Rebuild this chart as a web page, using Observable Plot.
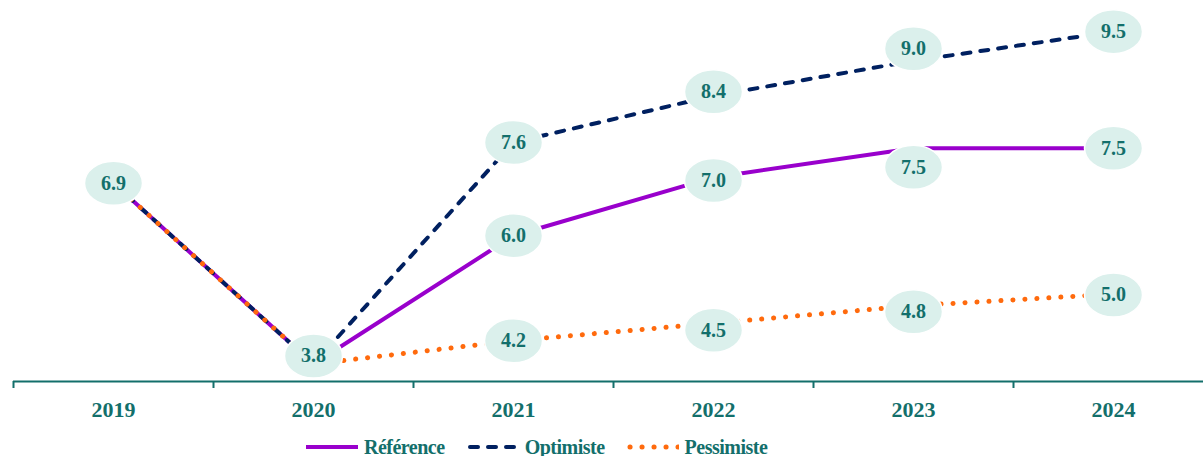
<!DOCTYPE html>
<html>
<head>
<meta charset="utf-8">
<script src="https://cdn.jsdelivr.net/npm/d3@7"></script>
<script src="https://cdn.jsdelivr.net/npm/@observablehq/plot@0.6"></script>
<style>
  html, body { margin: 0; padding: 0; background: #ffffff; }
  #chart { position: relative; width: 1203px; height: 456px; overflow: hidden; }
  #legend {
    position: absolute; left: 306px; top: 432px; height: 30px;
    display: flex; align-items: center; gap: 22px;
    font-family: "Liberation Serif", serif; font-weight: bold; font-size: 20px;
    letter-spacing: -0.5px; color: #136f6b;
  }
  #legend .item { display: flex; align-items: center; gap: 6px; white-space: nowrap; }
  #legend svg { display: block; }
</style>
</head>
<body>
<div id="chart"><div id="legend"></div></div>
<script>
// Years shown on the horizontal axis
const years = [2019, 2020, 2021, 2022, 2023, 2024];

// Scenario values per year
const reference  = [6.9, 3.8, 6.0, 7.0, 7.5, 7.5];
const optimiste  = [6.9, 3.8, 7.6, 8.4, 9.0, 9.5];
const pessimiste = [6.9, 3.8, 4.2, 4.5, 4.8, 5.0];

const seriesNames = ["Référence", "Optimiste", "Pessimiste"];

const teal = "#136f6b";
const bubble = "#dbf0ec";
const styles = {
  "Référence":  {stroke: "#9900cc", strokeWidth: 4, strokeDasharray: null, strokeLinecap: "butt"},
  "Optimiste":  {stroke: "#002060", strokeWidth: 4, strokeDasharray: "8 10", strokeLinecap: "round"},
  "Pessimiste": {stroke: "#ff6a0d", strokeWidth: 5, strokeDasharray: "0.1 11.9", strokeLinecap: "round"}
};

const valuesBy = {"Référence": reference, "Optimiste": optimiste, "Pessimiste": pessimiste};
const rows = seriesNames.flatMap(name =>
  years.map((year, i) => ({series: name, year, value: valuesBy[name][i]}))
);

// Shared history (2019–2020) gets one label; afterwards each scenario has its own
const labels = rows.filter(d => d.year > 2020 || d.series === "Référence");

// Small nudges so bubbles sit clear of neighbouring lines
function labelShift(d) {
  if (d.year === 2020) return -8;
  if (d.year === 2022) return {"Optimiste": -4, "Référence": 3, "Pessimiste": 7}[d.series];
  if (d.year === 2023) return {"Optimiste": -12, "Référence": 19, "Pessimiste": 6}[d.series];
  if (d.year === 2024 && d.series === "Pessimiste") return 1;
  return 0;
}

// Elliptical bubble used behind each value label
const RX = 29, RY = 22, K = 0.5523;
const ellipse = {
  draw(ctx) {
    ctx.moveTo(RX, 0);
    ctx.bezierCurveTo(RX, K * RY, K * RX, RY, 0, RY);
    ctx.bezierCurveTo(-K * RX, RY, -RX, K * RY, -RX, 0);
    ctx.bezierCurveTo(-RX, -K * RY, -K * RX, -RY, 0, -RY);
    ctx.bezierCurveTo(K * RX, -RY, RX, -K * RY, RX, 0);
    ctx.closePath();
  }
};

const font = "Liberation Serif";
const boundaries = years.map(y => y - 0.5);

const marks = [
  Plot.ruleY([3.5], {stroke: teal, strokeWidth: 2}),
  Plot.axisX({ticks: boundaries, tickSize: 7, tickFormat: () => "", label: null, stroke: teal, strokeWidth: 2}),
  Plot.text(years, {
    x: d => d, y: () => 3.5, dy: 28, text: d => String(d),
    fill: teal, fontSize: 22, fontWeight: "bold", fontFamily: font
  }),
  ...seriesNames.map(name => Plot.line(rows.filter(d => d.series === name), {
    x: "year", y: "value", curve: "linear", ...styles[name]
  }))
];

for (const d of labels) {
  const dy = labelShift(d);
  marks.push(Plot.dot([d], {x: "year", y: "value", dy, symbol: ellipse, fill: bubble, stroke: "#ffffff", strokeWidth: 1.5}));
  marks.push(Plot.text([d], {
    x: "year", y: "value", dy, text: v => v.value.toFixed(1),
    fill: teal, fontSize: 20, fontWeight: "bold", fontFamily: font
  }));
}

const plot = Plot.plot({
  width: 1203,
  height: 432,
  marginTop: 2,
  marginBottom: 51,
  marginLeft: 13,
  marginRight: 0,
  x: {type: "linear", domain: [2018.5, 2024.5], range: [13, 1213], axis: null},
  y: {domain: [3.5, 10], axis: null},
  style: {fontFamily: font, overflow: "visible"},
  marks
});
document.getElementById("chart").prepend(plot);

// Legend below the chart
const legend = d3.select("#legend");
for (const name of seriesNames) {
  const s = styles[name];
  const item = legend.append("div").attr("class", "item");
  const sw = item.append("svg").attr("width", 52).attr("height", 10);
  sw.append("line")
    .attr("x1", s.strokeLinecap === "round" ? 3 : 0).attr("x2", 52)
    .attr("y1", 5).attr("y2", 5)
    .attr("stroke", s.stroke).attr("stroke-width", s.strokeWidth)
    .attr("stroke-dasharray", s.strokeDasharray)
    .attr("stroke-linecap", s.strokeLinecap);
  item.append("span").text(name);
}
</script>
</body>
</html>
